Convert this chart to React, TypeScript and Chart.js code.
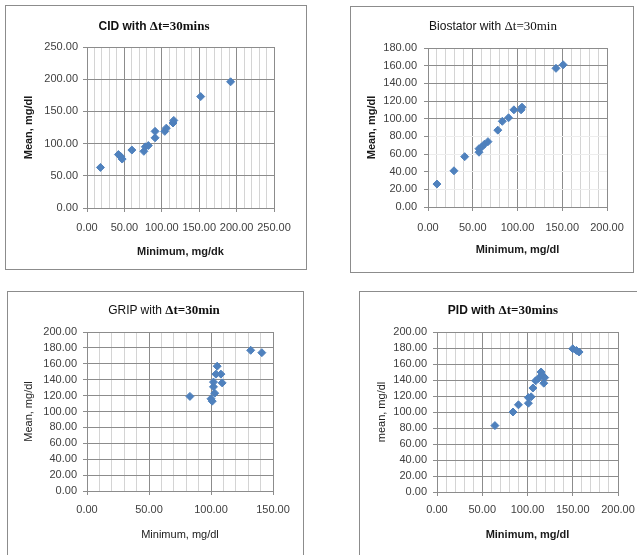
import React, { useEffect, useRef } from "react";
import { Chart, registerables } from "chart.js";

Chart.register(...registerables);

// CID with Δt=30mins
const cidMinimum = [18, 42, 45, 47, 60, 76, 78, 82, 91, 91, 104, 106, 115, 116, 152, 192];
const cidMean = [63, 83, 80, 76, 90, 88, 95, 97, 109, 119, 119, 124, 132, 136, 173, 196];

// Biostator with Δt=30min
const biostatorMinimum = [10, 29, 41, 57, 57, 60, 63, 67, 78, 83, 90, 96, 104, 105, 143, 151];
const biostatorMean = [26, 41, 57, 62, 66, 68, 71, 74, 87, 97, 101, 110, 110, 113, 157, 161];

// GRIP with Δt=30min
const gripMinimum = [83, 100, 101, 103, 102, 102, 105, 104, 108, 109, 132, 141];
const gripMean = [119, 116, 113, 123, 131, 137, 157, 147, 147, 136, 177, 174];

// PID with Δt=30mins
const pidMinimum = [64, 84, 90, 101, 101, 104, 106, 109, 112, 115, 116, 118, 119, 150, 154, 157];
const pidMean = [83, 100, 109, 111, 118, 119, 130, 139, 142, 150, 146, 136, 143, 179, 177, 175];

// Axis ranges and steps
const xMaxima = [250, 200, 150, 200];
const yMaxima = [250, 180, 200, 200];
const ySteps = [50, 20, 20, 20];
const xMinorStep = 10;
const xLabelStep = 50;

const SANS = "'Liberation Sans', Arial, sans-serif";
const SERIF = "'Liberation Serif', 'Times New Roman', serif";
const POINT_COLOR = "#4F81BD";
const MAJOR_LINE = "#8c8c8c";
const MINOR_LINE = "#d4d4d4";

type Box = { x: number; y: number; w: number; h: number };
type Area = { l: number; t: number; r: number; b: number };

type PanelSpec = {
  xs: number[];
  ys: number[];
  xMax: number;
  yMax: number;
  yStep: number;
  titleSans: string;
  titleSerif: string;
  titleSansWeight: string;
  titleSerifWeight: string;
  titleCenter: { x: number; y: number };
  xTitle: string;
  yTitle: string;
  xTitleWeight: string;
  yTitleWeight: string;
  box: Box; // outer frame on the page
  area: Area; // plot area, relative to the frame
  xTickGap: number;
  yTickGap: number;
  yTitleX: number;
  xTitleY: number;
  faintBelow?: number;
  showRight: boolean;
  showBottom: boolean;
};

const panels: PanelSpec[] = [
  {
    xs: cidMinimum,
    ys: cidMean,
    xMax: xMaxima[0],
    yMax: yMaxima[0],
    yStep: ySteps[0],
    titleSans: "CID with ",
    titleSerif: "Δt=30mins",
    titleSansWeight: "bold",
    titleSerifWeight: "bold",
    titleCenter: { x: 154, y: 25 },
    xTitle: "Minimum, mg/dk",
    yTitle: "Mean, mg/dl",
    xTitleWeight: "bold",
    yTitleWeight: "bold",
    box: { x: 5, y: 5, w: 302, h: 265 },
    area: { l: 82, t: 42, r: 269, b: 203 },
    xTickGap: 13,
    yTickGap: 9,
    yTitleX: 24,
    xTitleY: 247,
    showRight: true,
    showBottom: true,
  },
  {
    xs: biostatorMinimum,
    ys: biostatorMean,
    xMax: xMaxima[1],
    yMax: yMaxima[1],
    yStep: ySteps[1],
    titleSans: "Biostator with ",
    titleSerif: "Δt=30min",
    titleSansWeight: "normal",
    titleSerifWeight: "normal",
    titleCenter: { x: 493, y: 25 },
    xTitle: "Minimum, mg/dl",
    yTitle: "Mean, mg/dl",
    xTitleWeight: "bold",
    yTitleWeight: "bold",
    box: { x: 350, y: 6, w: 284, h: 267 },
    area: { l: 78, t: 42, r: 257, b: 201 },
    xTickGap: 14,
    yTickGap: 11,
    yTitleX: 22,
    xTitleY: 244,
    faintBelow: 100,
    showRight: true,
    showBottom: true,
  },
  {
    xs: gripMinimum,
    ys: gripMean,
    xMax: xMaxima[2],
    yMax: yMaxima[2],
    yStep: ySteps[2],
    titleSans: "GRIP with ",
    titleSerif: "Δt=30min",
    titleSansWeight: "normal",
    titleSerifWeight: "bold",
    titleCenter: { x: 164, y: 309 },
    xTitle: "Minimum, mg/dl",
    yTitle: "Mean, mg/dl",
    xTitleWeight: "normal",
    yTitleWeight: "normal",
    box: { x: 7, y: 291, w: 297, h: 289 },
    area: { l: 80, t: 41, r: 266, b: 200 },
    xTickGap: 12,
    yTickGap: 10,
    yTitleX: 22,
    xTitleY: 244,
    showRight: true,
    showBottom: false,
  },
  {
    xs: pidMinimum,
    ys: pidMean,
    xMax: xMaxima[3],
    yMax: yMaxima[3],
    yStep: ySteps[3],
    titleSans: "PID with ",
    titleSerif: "Δt=30mins",
    titleSansWeight: "bold",
    titleSerifWeight: "bold",
    titleCenter: { x: 503, y: 309 },
    xTitle: "Minimum, mg/dl",
    yTitle: "mean, mg/dl",
    xTitleWeight: "bold",
    yTitleWeight: "normal",
    box: { x: 359, y: 291, w: 300, h: 289 },
    area: { l: 78, t: 41, r: 259, b: 201 },
    xTickGap: 11,
    yTickGap: 10,
    yTitleX: 23,
    xTitleY: 244,
    showRight: false,
    showBottom: false,
  },
];

const TICK_FONT = { family: SANS, size: 11 };
const LINE_H = 11 * 1.2;

function ScatterPanel({ spec }: { spec: PanelSpec }) {
  const canvasRef = useRef<HTMLCanvasElement>(null);

  useEffect(() => {
    const canvas = canvasRef.current;
    if (!canvas) return;
    const { box, area } = spec;
    const points = spec.xs.map((x, i) => ({ x, y: spec.ys[i] }));
    const isMajorX = (v: number) => Math.abs(v % xLabelStep) < 1e-6;

    const chart = new Chart(canvas, {
      type: "scatter",
      data: {
        datasets: [
          {
            data: points,
            pointStyle: "rectRot",
            pointRadius: 4,
            pointHoverRadius: 4,
            pointBorderWidth: 1,
            backgroundColor: POINT_COLOR,
            borderColor: POINT_COLOR,
          },
        ],
      },
      options: {
        responsive: false,
        animation: false,
        events: [],
        layout: {
          padding: { left: 0, top: area.t, right: box.w - area.r, bottom: 0 },
        },
        plugins: {
          legend: { display: false },
          tooltip: { enabled: false },
          title: { display: false },
        },
        scales: {
          x: {
            type: "linear",
            min: 0,
            max: spec.xMax,
            afterFit: (scale: any) => {
              scale.height = box.h - area.b;
            },
            ticks: {
              stepSize: xMinorStep,
              autoSkip: false,
              maxRotation: 0,
              padding: spec.xTickGap - 4,
              font: TICK_FONT,
              color: "#404040",
              callback: (value: any) =>
                isMajorX(Number(value)) ? Number(value).toFixed(2) : "",
            },
            grid: {
              color: (ctx: any) =>
                isMajorX(ctx.tick.value) ? MAJOR_LINE : MINOR_LINE,
              tickColor: (ctx: any) =>
                isMajorX(ctx.tick.value) ? MAJOR_LINE : "rgba(0,0,0,0)",
              tickLength: 4,
              lineWidth: 1,
            },
            border: { color: MAJOR_LINE, width: 1 },
            title: {
              display: true,
              text: spec.xTitle,
              color: "#1a1a1a",
              font: { family: SANS, size: 11, weight: spec.xTitleWeight as any },
              padding: { top: 0, bottom: box.h - spec.xTitleY - LINE_H / 2 },
            },
          },
          y: {
            type: "linear",
            min: 0,
            max: spec.yMax,
            afterFit: (scale: any) => {
              scale.width = area.l;
            },
            ticks: {
              stepSize: spec.yStep,
              autoSkip: false,
              padding: spec.yTickGap - 4,
              font: TICK_FONT,
              color: "#404040",
              callback: (value: any) => Number(value).toFixed(2),
            },
            grid: {
              color: (ctx: any) =>
                spec.faintBelow !== undefined &&
                ctx.tick.value > 0 &&
                ctx.tick.value < spec.faintBelow
                  ? "#ededed"
                  : MAJOR_LINE,
              tickColor: MAJOR_LINE,
              tickLength: 4,
              lineWidth: 1,
            },
            border: { color: MAJOR_LINE, width: 1 },
            title: {
              display: true,
              text: spec.yTitle,
              color: "#1a1a1a",
              font: { family: SANS, size: 11, weight: spec.yTitleWeight as any },
              padding: { top: spec.yTitleX - LINE_H / 2, bottom: 0 },
            },
          },
        },
      },
    });
    return () => chart.destroy();
  }, [spec]);

  const { box } = spec;
  return (
    <>
      <canvas
        ref={canvasRef}
        width={box.w}
        height={box.h}
        style={{
          position: "absolute",
          left: box.x,
          top: box.y,
          width: box.w,
          height: box.h,
        }}
      />
      <div
        style={{
          position: "absolute",
          left: box.x,
          top: box.y,
          width: box.w,
          height: box.h,
          boxSizing: "border-box",
          borderTop: `1px solid ${MAJOR_LINE}`,
          borderLeft: `1px solid ${MAJOR_LINE}`,
          borderRight: spec.showRight ? `1px solid ${MAJOR_LINE}` : "none",
          borderBottom: spec.showBottom ? `1px solid ${MAJOR_LINE}` : "none",
          pointerEvents: "none",
        }}
      />
      <div
        style={{
          position: "absolute",
          left: spec.titleCenter.x - 120,
          top: spec.titleCenter.y - 8,
          width: 240,
          height: 16,
          lineHeight: "16px",
          textAlign: "center",
          whiteSpace: "nowrap",
          color: "#111",
        }}
      >
        <span
          style={{
            fontFamily: SANS,
            fontSize: 12,
            fontWeight: spec.titleSansWeight as any,
          }}
        >
          {spec.titleSans}
        </span>
        <span
          style={{
            fontFamily: SERIF,
            fontSize: 13,
            fontWeight: spec.titleSerifWeight as any,
          }}
        >
          {spec.titleSerif}
        </span>
      </div>
    </>
  );
}

export default function App() {
  return (
    <div
      style={{
        position: "absolute",
        left: 0,
        top: 0,
        width: 637,
        height: 555,
        overflow: "hidden",
        background: "#ffffff",
      }}
    >
      {panels.map((p, i) => (
        <ScatterPanel key={i} spec={p} />
      ))}
    </div>
  );
}
